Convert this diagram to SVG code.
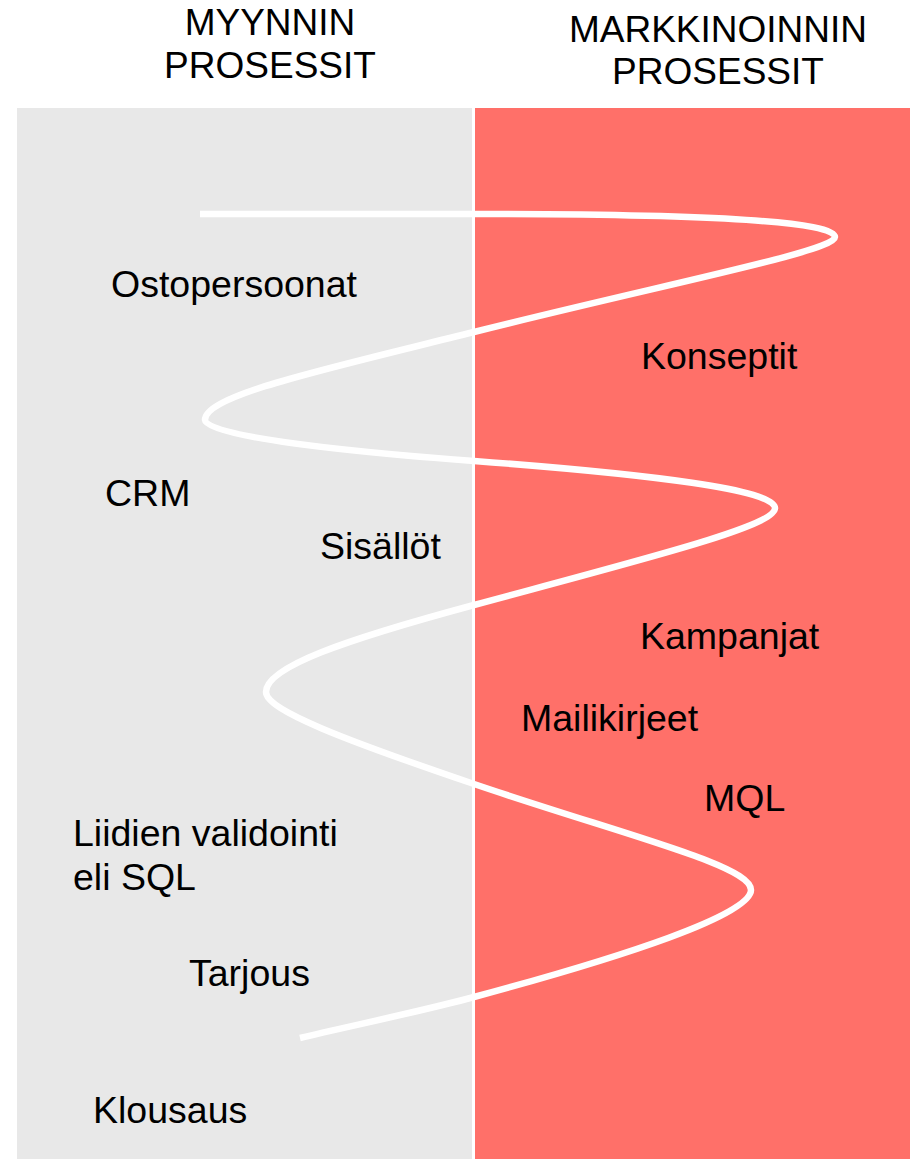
<svg xmlns="http://www.w3.org/2000/svg" width="910" height="1160" viewBox="0 0 910 1160">
  <style>
    .lbl { font-family: "Liberation Sans", Arial, sans-serif; font-size: 37.5px; fill: #000000; }
    .hdr { font-family: "Liberation Sans", Arial, sans-serif; font-size: 37px; fill: #000000; text-anchor: middle; }
    .wave { fill: none; stroke: #ffffff; stroke-width: 6.5; stroke-linecap: butt; stroke-linejoin: round; }
  </style>
  <rect x="0" y="0" width="910" height="1160" fill="#ffffff"/>

  <!-- two process lanes -->
  <g id="lane-sales">
    <rect x="17" y="108" width="455" height="1051" fill="#e8e8e8"/>
  </g>
  <g id="lane-marketing">
    <rect x="475" y="108" width="435" height="1051" fill="#ff7069"/>
  </g>

  <!-- lane headings -->
  <g id="heading-sales">
    <text class="hdr" x="270" y="35">MYYNNIN</text>
    <text class="hdr" x="270" y="78">PROSESSIT</text>
  </g>
  <g id="heading-marketing">
    <text class="hdr" x="718" y="42">MARKKINOINNIN</text>
    <text class="hdr" x="718" y="84">PROSESSIT</text>
  </g>

  <!-- winding path between the lanes -->
  <g id="connectors">
    <path class="wave" d="M200,214 L470,214
      C720,214 835,222 835,237
      C835,251 674,282 474,332
      C324,369.5 205,395 205,420
      C205,435 324,449.8 474,461
      C654,474.5 775,490 775,508
      C775,526 654,556.4 474,605
      C344,640.1 266,667 266,692
      C266,710 344,739.8 474,784
      C624,835 751,865 751,890
      C751,915 624,956.5 474,997
      C420,1011.6 350,1026 300,1038"/>
  </g>

  <!-- process steps -->
  <g id="step-ostopersoonat"><text class="lbl" x="111" y="297">Ostopersoonat</text></g>
  <g id="step-konseptit"><text class="lbl" x="641" y="369">Konseptit</text></g>
  <g id="step-crm"><text class="lbl" x="105" y="506">CRM</text></g>
  <g id="step-sisallot"><text class="lbl" x="320" y="559">Sisällöt</text></g>
  <g id="step-kampanjat"><text class="lbl" x="640" y="649">Kampanjat</text></g>
  <g id="step-mailikirjeet"><text class="lbl" x="521" y="731">Mailikirjeet</text></g>
  <g id="step-mql"><text class="lbl" x="704" y="811">MQL</text></g>
  <g id="step-sql">
    <text class="lbl" x="73" y="846">Liidien validointi</text>
    <text class="lbl" x="73" y="890">eli SQL</text>
  </g>
  <g id="step-tarjous"><text class="lbl" x="189" y="986">Tarjous</text></g>
  <g id="step-klousaus"><text class="lbl" x="93" y="1123">Klousaus</text></g>
</svg>
